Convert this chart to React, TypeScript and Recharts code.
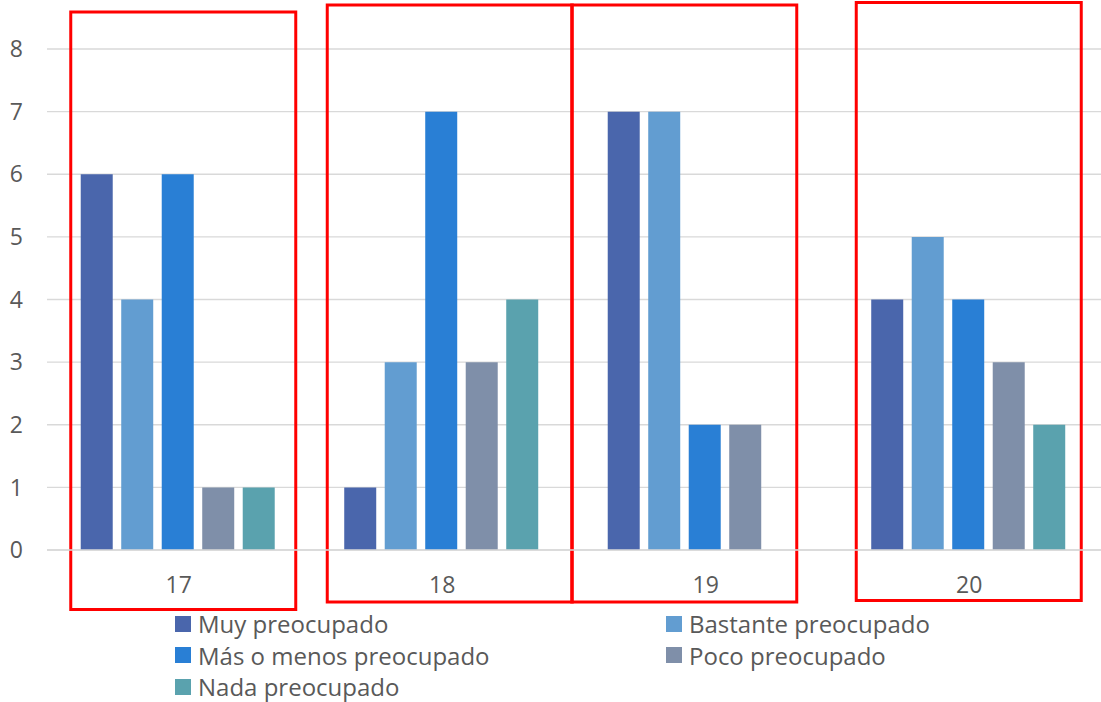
import React from 'react';
import { BarChart, Bar, XAxis, YAxis, CartesianGrid, Legend, Customized } from 'recharts';

// Survey answers by age (17–20): how worried each respondent is
const categories = ['17', '18', '19', '20'];
const muyPreocupado = [6, 1, 7, 4];
const bastantePreocupado = [4, 3, 7, 5];
const masOMenosPreocupado = [6, 7, 2, 4];
const pocoPreocupado = [1, 3, 2, 3];
const nadaPreocupado = [1, 4, 0, 2];
const yTicks = [0, 1, 2, 3, 4, 5, 6, 7, 8];

const seriesKeys = ['muy', 'bastante', 'masMenos', 'poco', 'nada'];
const seriesNames = [
  'Muy preocupado',
  'Bastante preocupado',
  'Más o menos preocupado',
  'Poco preocupado',
  'Nada preocupado',
];
const seriesValues = [muyPreocupado, bastantePreocupado, masOMenosPreocupado, pocoPreocupado, nadaPreocupado];
const seriesColors = ['#4A66AC', '#629DD1', '#297FD5', '#7F8FA9', '#5AA2AE'];

const data = categories.map((c, i) => {
  const row: Record<string, string | number> = { edad: c };
  seriesKeys.forEach((k, s) => {
    row[k] = seriesValues[s][i];
  });
  return row;
});

// Chart geometry
const W = 1101;
const H = 702;
const MARGIN = { top: 49, right: 0, left: 0, bottom: 0 };
const Y_AXIS_W = 47;
const X_AXIS_H = 58;
const LEGEND_H = 94;
const TEXT = '#595959';
const FONT = "'Open Sans', 'DejaVu Sans', sans-serif";

// Hand-drawn red frames around each age group (offsets from the band centre)
const frames = [
  { cat: 0, dl: -108, dr: 117, top: 12, bottom: 609.5 },
  { cat: 1, dl: -115, dr: 130, top: 5, bottom: 602 },
  { cat: 2, dl: -134, dr: 91, top: 5, bottom: 602 },
  { cat: 3, dl: -113, dr: 112, top: 2.5, bottom: 600.5 },
];

const Frames = () => {
  const plotLeft = MARGIN.left + Y_AXIS_W;
  const plotW = W - plotLeft - MARGIN.right;
  const band = plotW / categories.length;
  return (
    <g>
      {frames.map((f, i) => {
        const c = plotLeft + band * (f.cat + 0.5);
        return (
          <rect
            key={i}
            x={c + f.dl}
            y={f.top}
            width={f.dr - f.dl}
            height={f.bottom - f.top}
            fill="none"
            stroke="#FF0000"
            strokeWidth={3}
          />
        );
      })}
    </g>
  );
};

const LegendContent = () => (
  <div
    style={{
      height: LEGEND_H,
      paddingLeft: 175,
      display: 'grid',
      gridTemplateColumns: '491px auto',
      gridAutoRows: '31.5px',
      fontFamily: FONT,
      fontSize: 24,
      color: TEXT,
      boxSizing: 'border-box',
    }}
  >
    {seriesNames.map((name, i) => (
      <div key={name} style={{ display: 'flex', alignItems: 'center', whiteSpace: 'nowrap' }}>
        <span
          style={{
            display: 'inline-block',
            width: 16,
            height: 16,
            background: seriesColors[i],
            marginRight: 7,
          }}
        />
        <span style={{ lineHeight: '31.5px' }}>{name}</span>
      </div>
    ))}
  </div>
);

export default function App() {
  return (
    <div
      style={{
        position: 'absolute',
        left: 0,
        top: 0,
        width: W,
        height: H,
        background: '#fff',
        fontFamily: FONT,
      }}
    >
      <BarChart
        width={W}
        height={H}
        data={data}
        margin={MARGIN}
        barCategoryGap="12.8%"
        barGap={8.5}
      >
        <CartesianGrid vertical={false} stroke="#D9D9D9" strokeWidth={1.3} />
        <XAxis
          dataKey="edad"
          height={X_AXIS_H}
          tickLine={false}
          tickSize={0}
          tickMargin={27}
          axisLine={{ stroke: '#D9D9D9', strokeWidth: 1.3 }}
          tick={{ fill: TEXT, fontSize: 23, fontFamily: FONT }}
        />
        <YAxis
          width={Y_AXIS_W}
          domain={[0, 8]}
          ticks={yTicks}
          interval={0}
          axisLine={false}
          tickLine={false}
          tickSize={0}
          tickMargin={24}
          tick={{ fill: TEXT, fontSize: 23, fontFamily: FONT }}
        />
        {seriesKeys.map((k, i) => (
          <Bar
            key={k}
            dataKey={k}
            name={seriesNames[i]}
            fill={seriesColors[i]}
            isAnimationActive={false}
          />
        ))}
        <Legend
          verticalAlign="bottom"
          height={LEGEND_H}
          wrapperStyle={{ left: 0, width: W }}
          content={<LegendContent />}
        />
        <Customized component={<Frames />} />
      </BarChart>
    </div>
  );
}
